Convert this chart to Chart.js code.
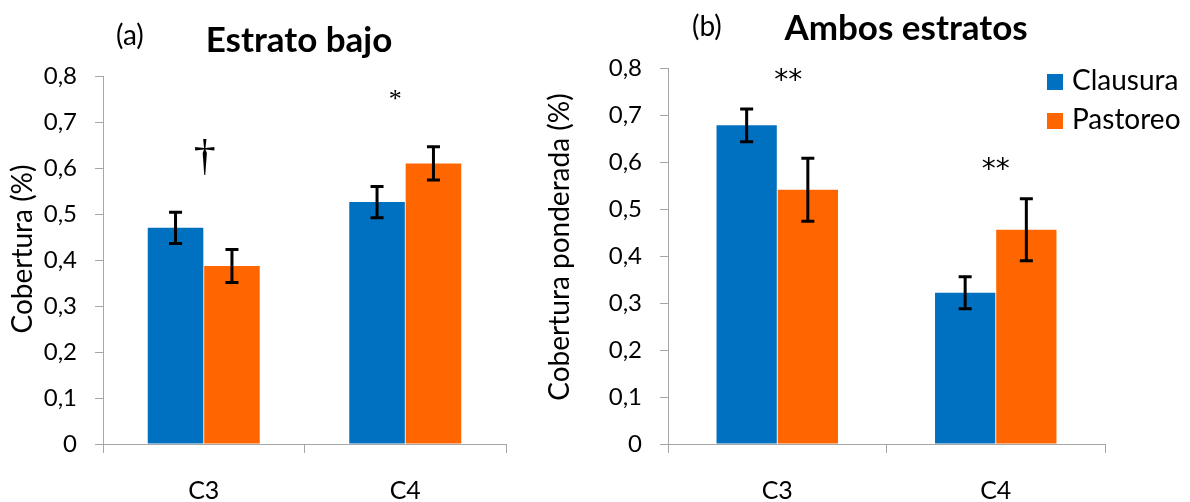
<!DOCTYPE html>
<html>
<head>
<meta charset="utf-8">
<script src="https://cdn.jsdelivr.net/npm/chart.js@4/dist/chart.umd.min.js"></script>
<style>
  html, body { margin: 0; padding: 0; background: #fff; }
  #wrap { position: relative; width: 1190px; height: 502px; }
  canvas { position: absolute; top: 0; }
  #chartA { left: 0; }
  #chartB { left: 540px; }
</style>
</head>
<body>
<div id="wrap">
  <canvas id="chartA" width="540" height="502"></canvas>
  <canvas id="chartB" width="650" height="502"></canvas>
</div>
<script>
let categories = ["C3", "C4"];
let seriesNames = ["Clausura", "Pastoreo"];
let yTickLabels = ["0", "0,1", "0,2", "0,3", "0,4", "0,5", "0,6", "0,7", "0,8"];

// (a) Estrato bajo
let bajoClausura = [0.47, 0.526];
let bajoPastoreo = [0.387, 0.61];
let bajoClausuraErr = [0.034, 0.034];
let bajoPastoreoErr = [0.036, 0.036];
let bajoMarks = ["†", "*"];
let bajoMarkLevel = [0.623, 0.758];

// (b) Ambos estratos
let ambosClausura = [0.678, 0.322];
let ambosPastoreo = [0.541, 0.456];
let ambosClausuraErr = [0.035, 0.034];
let ambosPastoreoErr = [0.067, 0.066];
let ambosMarks = ["**", "**"];
let ambosMarkLevel = [0.786, 0.596];

let colors = ["#0070C0", "#FF6600"];
let axisGray = "#a6a6a6";

Chart.defaults.font.family = "Lato";
Chart.defaults.color = "#000";

// draw text so that its ink is centred on (x, y)
function inkCenter(ctx, text, x, y) {
    let m = ctx.measureText(text);
    ctx.textAlign = "center";
    ctx.textBaseline = "alphabetic";
    let off = (m.actualBoundingBoxAscent - m.actualBoundingBoxDescent) / 2;
    ctx.fillText(text, x, y + off);
}

const errorBars = {
    id: "errorBars",
    afterDatasetsDraw(chart) {
        let ctx = chart.ctx;
        let y = chart.scales.y;
        ctx.save();
        ctx.strokeStyle = "#000";
        ctx.lineWidth = 3;
        chart.data.datasets.forEach((ds, i) => {
            chart.getDatasetMeta(i).data.forEach((bar, j) => {
                let top = y.getPixelForValue(ds.data[j] + ds.errors[j]);
                let bot = y.getPixelForValue(ds.data[j] - ds.errors[j]);
                ctx.beginPath();
                ctx.moveTo(bar.x, top);
                ctx.lineTo(bar.x, bot);
                ctx.moveTo(bar.x - 6.5, top);
                ctx.lineTo(bar.x + 6.5, top);
                ctx.moveTo(bar.x - 6.5, bot);
                ctx.lineTo(bar.x + 6.5, bot);
                ctx.stroke();
            });
        });
        ctx.restore();
    }
};

const extras = {
    id: "extras",
    afterDraw(chart, args, opts) {
        let ctx = chart.ctx;
        let x = chart.scales.x;
        let y = chart.scales.y;
        ctx.save();
        ctx.fillStyle = "#000";

        // y axis title
        ctx.save();
        ctx.translate(opts.yTitleX, opts.yTitleY);
        ctx.rotate(-Math.PI / 2);
        ctx.font = "28px Lato";
        inkCenter(ctx, opts.yTitle, 0, 0);
        ctx.restore();

        // significance marks
        opts.marks.forEach((m, i) => {
            ctx.font = opts.markFonts[i];
            inkCenter(ctx, m, x.getPixelForValue(i) + opts.markDx[i], y.getPixelForValue(opts.markLevel[i]));
        });

        // panel letter and title
        ctx.textBaseline = "alphabetic";
        ctx.textAlign = "left";
        ctx.font = "28px Lato";
        ctx.fillText(opts.letter, opts.letterX, opts.letterY);
        ctx.textAlign = "center";
        ctx.font = "bold 35px Lato";
        ctx.fillText(opts.title, opts.titleX, opts.titleY);

        // legend
        if (opts.legend) {
            ctx.font = "28px Lato";
            ctx.textAlign = "left";
            chart.data.datasets.forEach((ds, i) => {
                let rowY = opts.legendY + i * 39;
                ctx.fillStyle = ds.backgroundColor;
                ctx.fillRect(opts.legendX, rowY - 16, 16, 16);
                ctx.fillStyle = "#000";
                ctx.fillText(ds.label, opts.legendX + 25, rowY);
            });
        }
        ctx.restore();
    }
};

function makeChart(id, clausura, pastoreo, errC, errP, axisLeft, padRight, padTop, extraOpts) {
    return new Chart(document.getElementById(id), {
        type: "bar",
        data: {
            labels: categories,
            datasets: [
                { label: seriesNames[0], data: clausura, errors: errC, backgroundColor: colors[0] },
                { label: seriesNames[1], data: pastoreo, errors: errP, backgroundColor: colors[1] }
            ]
        },
        options: {
            responsive: false,
            animation: false,
            devicePixelRatio: 1,
            layout: { padding: { left: 0, right: padRight, top: padTop, bottom: 0 } },
            datasets: { bar: { barPercentage: 0.985, categoryPercentage: 0.56 } },
            plugins: {
                legend: { display: false },
                title: { display: false },
                tooltip: { enabled: false },
                extras: extraOpts
            },
            scales: {
                x: {
                    grid: { drawOnChartArea: false, tickLength: 9, color: axisGray },
                    border: { color: axisGray },
                    ticks: { font: { size: 25 }, padding: 23, color: "#000" },
                    afterFit: (s) => { s.height = 58; }
                },
                y: {
                    min: 0,
                    max: 0.8,
                    ticks: {
                        stepSize: 0.1,
                        font: { size: 24 },
                        padding: 18,
                        color: "#000",
                        callback: (v, i) => yTickLabels[i]
                    },
                    grid: { drawOnChartArea: false, tickLength: 8, color: axisGray },
                    border: { color: axisGray },
                    afterFit: (s) => { s.width = axisLeft; }
                }
            }
        },
        plugins: [errorBars, extras]
    });
}

makeChart("chartA", bajoClausura, bajoPastoreo, bajoClausuraErr, bajoPastoreoErr, 103, 34, 76, {
    yTitle: "Cobertura (%)", yTitleX: 23, yTitleY: 249,
    marks: bajoMarks, markLevel: bajoMarkLevel, markDx: [1, -10],
    markFonts: ["44px 'Liberation Serif'", "26px 'Liberation Serif'"],
    letter: "(a)", letterX: 116, letterY: 45,
    title: "Estrato bajo", titleX: 299, titleY: 52,
    legend: false
});

makeChart("chartB", ambosClausura, ambosPastoreo, ambosClausuraErr, ambosPastoreoErr, 128, 85, 68, {
    yTitle: "Cobertura ponderada (%)", yTitleX: 20, yTitleY: 247,
    marks: ambosMarks, markLevel: ambosMarkLevel, markDx: [11, 0],
    markFonts: ["28px 'DejaVu Sans'", "28px 'DejaVu Sans'"],
    letter: "(b)", letterX: 152, letterY: 36,
    title: "Ambos estratos", titleX: 366, titleY: 40,
    legend: true, legendX: 507, legendY: 90
});
</script>
</body>
</html>
